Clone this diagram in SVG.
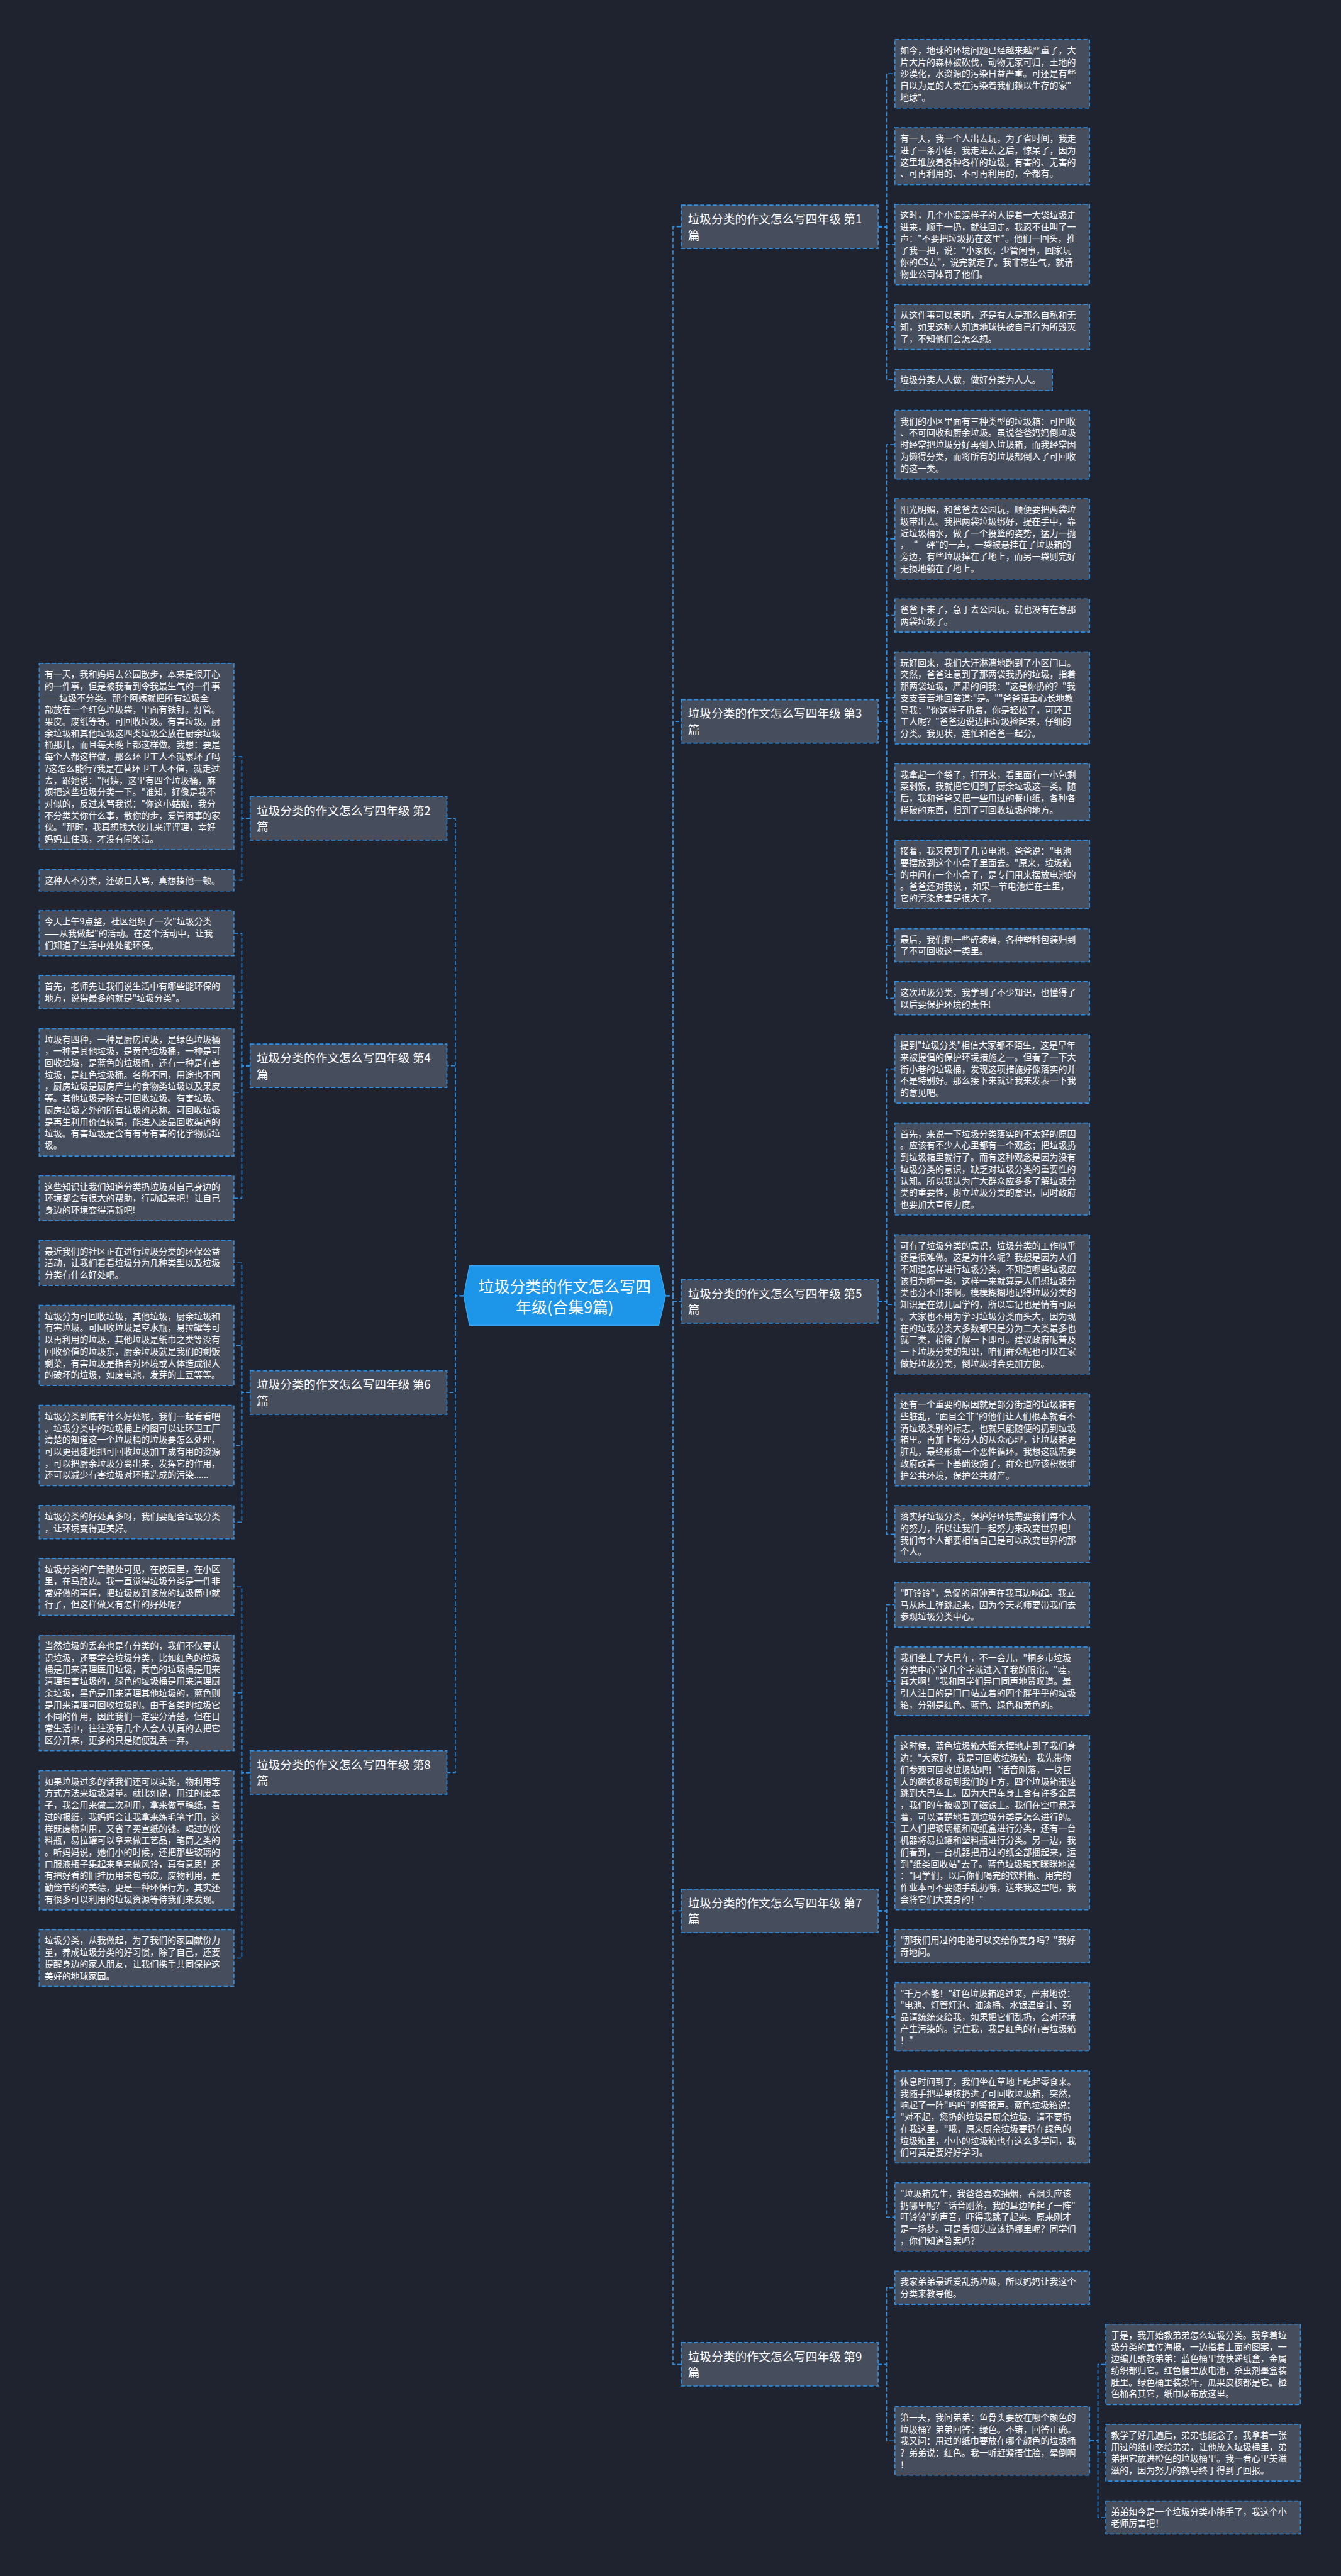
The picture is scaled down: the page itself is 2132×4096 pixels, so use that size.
<svg xmlns="http://www.w3.org/2000/svg" width="2132" height="4096" viewBox="0 0 2132 4096">
<style>
.bg{fill:#1f2330}
.n rect{fill:#464e5d;stroke:#2d8ee2;stroke-width:2;stroke-dasharray:8 4}
.t{font-family:"Noto Sans CJK SC","Liberation Sans",sans-serif;font-size:16.8px;fill:#ffffff}
.bt{font-family:"Noto Sans CJK SC","Liberation Sans",sans-serif;font-size:22.5px;fill:#ffffff}
.rt{font-family:"Noto Sans CJK SC","Liberation Sans",sans-serif;font-size:30px;fill:#ffffff;text-anchor:middle}
#links path{fill:none;stroke:#2d8ee2;stroke-width:2;stroke-dasharray:8 4}
</style>
<rect class="bg" x="0" y="0" width="2132" height="4096"/>
<g transform="scale(0.832)">
<g id="links">
<path d="M1272,2476.5H1286V433.5H1302"/>
<path d="M1272,2476.5H1286V1378.8H1302"/>
<path d="M1272,2476.5H1286V2487.3H1302"/>
<path d="M1272,2476.5H1286V3651.95H1302"/>
<path d="M1272,2476.5H1286V4518.6H1302"/>
<path d="M886,2476.5H870V1564.15H854"/>
<path d="M886,2476.5H870V2036.8H854"/>
<path d="M886,2476.5H870V2661.4H854"/>
<path d="M886,2476.5H870V3387.45H854"/>
<path d="M1678,433.5H1694V140.9H1710"/>
<path d="M1678,433.5H1694V298.45H1710"/>
<path d="M1678,433.5H1694V467.25H1710"/>
<path d="M1678,433.5H1694V624.8H1710"/>
<path d="M1678,433.5H1694V726.1H1710"/>
<path d="M1678,1378.8H1694V849.9H1710"/>
<path d="M1678,1378.8H1694V1029.95H1710"/>
<path d="M1678,1378.8H1694V1176.25H1710"/>
<path d="M1678,1378.8H1694V1333.8H1710"/>
<path d="M1678,1378.8H1694V1513.85H1710"/>
<path d="M1678,1378.8H1694V1671.4H1710"/>
<path d="M1678,1378.8H1694V1806.45H1710"/>
<path d="M1678,1378.8H1694V1907.75H1710"/>
<path d="M1678,2487.3H1694V2042.8H1710"/>
<path d="M1678,2487.3H1694V2234.1H1710"/>
<path d="M1678,2487.3H1694V2492.9H1710"/>
<path d="M1678,2487.3H1694V2751.7H1710"/>
<path d="M1678,2487.3H1694V2931.75H1710"/>
<path d="M1678,3651.95H1694V3066.8H1710"/>
<path d="M1678,3651.95H1694V3213.1H1710"/>
<path d="M1678,3651.95H1694V3483.15H1710"/>
<path d="M1678,3651.95H1694V3719.45H1710"/>
<path d="M1678,3651.95H1694V3854.5H1710"/>
<path d="M1678,3651.95H1694V4045.8H1710"/>
<path d="M1678,3651.95H1694V4237.1H1710"/>
<path d="M1678,4518.6H1694V4372.15H1710"/>
<path d="M1678,4518.6H1694V4665H1710"/>
<path d="M2082,4665H2098V4518.75H2113"/>
<path d="M2082,4665H2098V4687.55H2113"/>
<path d="M2082,4665H2098V4811.35H2113"/>
<path d="M478,1564.15H462V1446H447"/>
<path d="M478,1564.15H462V1682.3H447"/>
<path d="M478,2036.8H462V1783.6H447"/>
<path d="M478,2036.8H462V1896.15H447"/>
<path d="M478,2036.8H462V2087.45H447"/>
<path d="M478,2036.8H462V2290H447"/>
<path d="M478,2661.4H462V2413.8H447"/>
<path d="M478,2661.4H462V2571.35H447"/>
<path d="M478,2661.4H462V2762.65H447"/>
<path d="M478,2661.4H462V2908.95H447"/>
<path d="M478,3387.45H462V3032.75H447"/>
<path d="M478,3387.45H462V3235.3H447"/>
<path d="M478,3387.45H462V3517.1H447"/>
<path d="M478,3387.45H462V3742.15H447"/>
</g>
<g id="root">
<polygon points="897,2419 1259,2419 1272,2476.5 1259,2533 897,2533 886,2476.5" fill="#1d96ea" stroke="#3aa6f2" stroke-width="1.5"/>
<text class="rt" x="1079" y="2469.4">垃圾分类的作文怎么写四</text>
<text class="rt" x="1079" y="2509.4">年级(合集9篇)</text>
</g>
<g id="b1" class="n"><rect x="1302" y="392" width="376" height="83"/><text class="bt"><tspan x="1314.5" y="426.5">垃圾分类的作文怎么写四年级 第1</tspan><tspan x="1314.5" y="457.5">篇</tspan></text></g>
<g id="b3" class="n"><rect x="1302" y="1337.3" width="376" height="83"/><text class="bt"><tspan x="1314.5" y="1371.8">垃圾分类的作文怎么写四年级 第3</tspan><tspan x="1314.5" y="1402.8">篇</tspan></text></g>
<g id="b5" class="n"><rect x="1302" y="2445.8" width="376" height="83"/><text class="bt"><tspan x="1314.5" y="2480.3">垃圾分类的作文怎么写四年级 第5</tspan><tspan x="1314.5" y="2511.3">篇</tspan></text></g>
<g id="b7" class="n"><rect x="1302" y="3610.5" width="376" height="83"/><text class="bt"><tspan x="1314.5" y="3645">垃圾分类的作文怎么写四年级 第7</tspan><tspan x="1314.5" y="3676">篇</tspan></text></g>
<g id="b9" class="n"><rect x="1302" y="4477.1" width="376" height="83"/><text class="bt"><tspan x="1314.5" y="4511.6">垃圾分类的作文怎么写四年级 第9</tspan><tspan x="1314.5" y="4542.6">篇</tspan></text></g>
<g id="b2" class="n"><rect x="478" y="1522.65" width="376" height="83"/><text class="bt"><tspan x="490.5" y="1557.2">垃圾分类的作文怎么写四年级 第2</tspan><tspan x="490.5" y="1588.2">篇</tspan></text></g>
<g id="b4" class="n"><rect x="478" y="1995.3" width="376" height="83"/><text class="bt"><tspan x="490.5" y="2029.8">垃圾分类的作文怎么写四年级 第4</tspan><tspan x="490.5" y="2060.8">篇</tspan></text></g>
<g id="b6" class="n"><rect x="478" y="2619.9" width="376" height="83"/><text class="bt"><tspan x="490.5" y="2654.4">垃圾分类的作文怎么写四年级 第6</tspan><tspan x="490.5" y="2685.4">篇</tspan></text></g>
<g id="b8" class="n"><rect x="478" y="3345.95" width="376" height="83"/><text class="bt"><tspan x="490.5" y="3380.5">垃圾分类的作文怎么写四年级 第8</tspan><tspan x="490.5" y="3411.5">篇</tspan></text></g>

<g id="r1" class="n"><rect x="1710" y="75.4" width="372" height="131"/><text class="t"><tspan x="1720" y="102">如今，地球的环境问题已经越来越严重了，大</tspan><tspan x="1720" dy="22.5">片大片的森林被砍伐，动物无家可归，土地的</tspan><tspan x="1720" dy="22.5">沙漠化，水资源的污染日益严重。可还是有些</tspan><tspan x="1720" dy="22.5">自以为是的人类在污染着我们赖以生存的家"</tspan><tspan x="1720" dy="22.5">地球"。</tspan></text></g>
<g id="r2" class="n"><rect x="1710" y="244.2" width="372" height="108.5"/><text class="t"><tspan x="1720" y="270.8">有一天，我一个人出去玩，为了省时间，我走</tspan><tspan x="1720" dy="22.5">进了一条小径，我走进去之后，惊呆了，因为</tspan><tspan x="1720" dy="22.5">这里堆放着各种各样的垃圾，有害的、无害的</tspan><tspan x="1720" dy="22.5">、可再利用的、不可再利用的，全都有。</tspan></text></g>
<g id="r3" class="n"><rect x="1710" y="390.5" width="372" height="153.5"/><text class="t"><tspan x="1720" y="417.1">这时，几个小混混样子的人提着一大袋垃圾走</tspan><tspan x="1720" dy="22.5">进来，顺手一扔，就往回走。我忍不住叫了一</tspan><tspan x="1720" dy="22.5">声："不要把垃圾扔在这里"。他们一回头，推</tspan><tspan x="1720" dy="22.5">了我一把，说："小家伙，少管闲事，回家玩</tspan><tspan x="1720" dy="22.5">你的CS去"，说完就走了。我非常生气，就请</tspan><tspan x="1720" dy="22.5">物业公司体罚了他们。</tspan></text></g>
<g id="r4" class="n"><rect x="1710" y="581.8" width="372" height="86"/><text class="t"><tspan x="1720" y="608.4">从这件事可以表明，还是有人是那么自私和无</tspan><tspan x="1720" dy="22.5">知，如果这种人知道地球快被自己行为所毁灭</tspan><tspan x="1720" dy="22.5">了，不知他们会怎么想。</tspan></text></g>
<g id="r5" class="n"><rect x="1710" y="705.6" width="301" height="41"/><text class="t"><tspan x="1720" y="732.2">垃圾分类人人做，做好分类为人人。</tspan></text></g>

<g id="r6" class="n"><rect x="1710" y="784.4" width="372" height="131"/><text class="t"><tspan x="1720" y="811">我们的小区里面有三种类型的垃圾箱：可回收</tspan><tspan x="1720" dy="22.5">、不可回收和厨余垃圾。虽说爸爸妈妈倒垃圾</tspan><tspan x="1720" dy="22.5">时经常把垃圾分好再倒入垃圾箱，而我经常因</tspan><tspan x="1720" dy="22.5">为懒得分类，而将所有的垃圾都倒入了可回收</tspan><tspan x="1720" dy="22.5">的这一类。</tspan></text></g>
<g id="r7" class="n"><rect x="1710" y="953.2" width="372" height="153.5"/><text class="t"><tspan x="1720" y="979.8">阳光明媚，和爸爸去公园玩，顺便要把两袋垃</tspan><tspan x="1720" dy="22.5">圾带出去。我把两袋垃圾绑好，提在手中，靠</tspan><tspan x="1720" dy="22.5">近垃圾桶水，做了一个投篮的姿势，猛力一抛</tspan><tspan x="1720" dy="22.5">，　“　砰"的一声，一袋被悬挂在了垃圾箱的</tspan><tspan x="1720" dy="22.5">旁边，有些垃圾掉在了地上，而另一袋则完好</tspan><tspan x="1720" dy="22.5">无损地躺在了地上。</tspan></text></g>
<g id="r8" class="n"><rect x="1710" y="1144.5" width="372" height="63.5"/><text class="t"><tspan x="1720" y="1171.1">爸爸下来了，急于去公园玩，就也没有在意那</tspan><tspan x="1720" dy="22.5">两袋垃圾了。</tspan></text></g>
<g id="r9" class="n"><rect x="1710" y="1245.8" width="372" height="176"/><text class="t"><tspan x="1720" y="1272.4">玩好回来，我们大汗淋漓地跑到了小区门口。</tspan><tspan x="1720" dy="22.5">突然，爸爸注意到了那两袋我扔的垃圾，指着</tspan><tspan x="1720" dy="22.5">那两袋垃圾，严肃的问我："这是你扔的？"我</tspan><tspan x="1720" dy="22.5">支支吾吾地回答道:"是。""爸爸语重心长地教</tspan><tspan x="1720" dy="22.5">导我："你这样子扔着，你是轻松了，可环卫</tspan><tspan x="1720" dy="22.5">工人呢？"爸爸边说边把垃圾捡起来，仔细的</tspan><tspan x="1720" dy="22.5">分类。我见状，连忙和爸爸一起分。</tspan></text></g>
<g id="r10" class="n"><rect x="1710" y="1459.6" width="372" height="108.5"/><text class="t"><tspan x="1720" y="1486.2">我拿起一个袋子，打开来，看里面有一小包剩</tspan><tspan x="1720" dy="22.5">菜剩饭，我就把它归到了厨余垃圾这一类。随</tspan><tspan x="1720" dy="22.5">后，我和爸爸又把一些用过的餐巾纸，各种各</tspan><tspan x="1720" dy="22.5">样破的东西，归到了可回收垃圾的地方。</tspan></text></g>
<g id="r11" class="n"><rect x="1710" y="1605.9" width="372" height="131"/><text class="t"><tspan x="1720" y="1632.5">接着，我又摸到了几节电池，爸爸说："电池</tspan><tspan x="1720" dy="22.5">要摆放到这个小盒子里面去。"原来，垃圾箱</tspan><tspan x="1720" dy="22.5">的中间有一个小盒子，是专门用来摆放电池的</tspan><tspan x="1720" dy="22.5">。爸爸还对我说 ，如果一节电池烂在土里，</tspan><tspan x="1720" dy="22.5">它的污染危害是很大了。</tspan></text></g>
<g id="r12" class="n"><rect x="1710" y="1774.7" width="372" height="63.5"/><text class="t"><tspan x="1720" y="1801.3">最后，我们把一些碎玻璃，各种塑料包装归到</tspan><tspan x="1720" dy="22.5">了不可回收这一类里。</tspan></text></g>
<g id="r13" class="n"><rect x="1710" y="1876" width="372" height="63.5"/><text class="t"><tspan x="1720" y="1902.6">这次垃圾分类，我学到了不少知识，也懂得了</tspan><tspan x="1720" dy="22.5">以后要保护环境的责任!</tspan></text></g>

<g id="r14" class="n"><rect x="1710" y="1977.3" width="372" height="131"/><text class="t"><tspan x="1720" y="2003.9">提到"垃圾分类"相信大家都不陌生，这是早年</tspan><tspan x="1720" dy="22.5">来被提倡的保护环境措施之一。但看了一下大</tspan><tspan x="1720" dy="22.5">街小巷的垃圾桶，发现这项措施好像落实的并</tspan><tspan x="1720" dy="22.5">不是特别好。那么接下来就让我来发表一下我</tspan><tspan x="1720" dy="22.5">的意见吧。</tspan></text></g>
<g id="r15" class="n"><rect x="1710" y="2146.1" width="372" height="176"/><text class="t"><tspan x="1720" y="2172.7">首先，来说一下垃圾分类落实的不太好的原因</tspan><tspan x="1720" dy="22.5">。应该有不少人心里都有一个观念；把垃圾扔</tspan><tspan x="1720" dy="22.5">到垃圾箱里就行了。而有这种观念是因为没有</tspan><tspan x="1720" dy="22.5">垃圾分类的意识，缺乏对垃圾分类的重要性的</tspan><tspan x="1720" dy="22.5">认知。所以我认为广大群众应多多了解垃圾分</tspan><tspan x="1720" dy="22.5">类的重要性，树立垃圾分类的意识，同时政府</tspan><tspan x="1720" dy="22.5">也要加大宣传力度。</tspan></text></g>
<g id="r16" class="n"><rect x="1710" y="2359.9" width="372" height="266"/><text class="t"><tspan x="1720" y="2386.5">可有了垃圾分类的意识，垃圾分类的工作似乎</tspan><tspan x="1720" dy="22.5">还是很难做。这是为什么呢？我想是因为人们</tspan><tspan x="1720" dy="22.5">不知道怎样进行垃圾分类。不知道哪些垃圾应</tspan><tspan x="1720" dy="22.5">该归为哪一类，这样一来就算是人们想垃圾分</tspan><tspan x="1720" dy="22.5">类也分不出来啊。模模糊糊地记得垃圾分类的</tspan><tspan x="1720" dy="22.5">知识是在幼儿园学的，所以忘记也是情有可原</tspan><tspan x="1720" dy="22.5">。大家也不用为学习垃圾分类而头大，因为现</tspan><tspan x="1720" dy="22.5">在的垃圾分类大多数都只是分为二大类最多也</tspan><tspan x="1720" dy="22.5">就三类，稍微了解一下即可。建议政府呢普及</tspan><tspan x="1720" dy="22.5">一下垃圾分类的知识，咱们群众呢也可以在家</tspan><tspan x="1720" dy="22.5">做好垃圾分类，倒垃圾时会更加方便。</tspan></text></g>
<g id="r17" class="n"><rect x="1710" y="2663.7" width="372" height="176"/><text class="t"><tspan x="1720" y="2690.3">还有一个重要的原因就是部分街道的垃圾箱有</tspan><tspan x="1720" dy="22.5">些脏乱，"面目全非"的他们让人们根本就看不</tspan><tspan x="1720" dy="22.5">清垃圾类别的标志，也就只能随便的扔到垃圾</tspan><tspan x="1720" dy="22.5">箱里。再加上部分人的从众心理，让垃圾箱更</tspan><tspan x="1720" dy="22.5">脏乱，最终形成一个恶性循环。我想这就需要</tspan><tspan x="1720" dy="22.5">政府改善一下基础设施了，群众也应该积极维</tspan><tspan x="1720" dy="22.5">护公共环境，保护公共财产。</tspan></text></g>
<g id="r18" class="n"><rect x="1710" y="2877.5" width="372" height="108.5"/><text class="t"><tspan x="1720" y="2904.1">落实好垃圾分类，保护好环境需要我们每个人</tspan><tspan x="1720" dy="22.5">的努力，所以让我们一起努力来改变世界吧！</tspan><tspan x="1720" dy="22.5">我们每个人都要相信自己是可以改变世界的那</tspan><tspan x="1720" dy="22.5">个人。</tspan></text></g>

<g id="r19" class="n"><rect x="1710" y="3023.8" width="372" height="86"/><text class="t"><tspan x="1720" y="3050.4">"叮铃铃"，急促的闹钟声在我耳边响起。我立</tspan><tspan x="1720" dy="22.5">马从床上弹跳起来，因为今天老师要带我们去</tspan><tspan x="1720" dy="22.5">参观垃圾分类中心。</tspan></text></g>
<g id="r20" class="n"><rect x="1710" y="3147.6" width="372" height="131"/><text class="t"><tspan x="1720" y="3174.2">我们坐上了大巴车，不一会儿，"桐乡市垃圾</tspan><tspan x="1720" dy="22.5">分类中心"这几个字就进入了我的眼帘。"哇，</tspan><tspan x="1720" dy="22.5">真大啊！"我和同学们异口同声地赞叹道。最</tspan><tspan x="1720" dy="22.5">引人注目的是门口站立着的四个胖乎乎的垃圾</tspan><tspan x="1720" dy="22.5">箱，分别是红色、蓝色、绿色和黄色的。</tspan></text></g>
<g id="r21" class="n"><rect x="1710" y="3316.4" width="372" height="333.5"/><text class="t"><tspan x="1720" y="3343">这时候，蓝色垃圾箱大摇大摆地走到了我们身</tspan><tspan x="1720" dy="22.5">边："大家好，我是可回收垃圾箱，我先带你</tspan><tspan x="1720" dy="22.5">们参观可回收垃圾站吧！"话音刚落，一块巨</tspan><tspan x="1720" dy="22.5">大的磁铁移动到我们的上方，四个垃圾箱迅速</tspan><tspan x="1720" dy="22.5">跳到大巴车上。因为大巴车身上含有许多金属</tspan><tspan x="1720" dy="22.5">，我们的车被吸到了磁铁上。我们在空中悬浮</tspan><tspan x="1720" dy="22.5">着，可以清楚地看到垃圾分类是怎么进行的。</tspan><tspan x="1720" dy="22.5">工人们把玻璃瓶和硬纸盒进行分类，还有一台</tspan><tspan x="1720" dy="22.5">机器将易拉罐和塑料瓶进行分类。另一边，我</tspan><tspan x="1720" dy="22.5">们看到，一台机器把用过的纸全部捆起来，运</tspan><tspan x="1720" dy="22.5">到"纸类回收站"去了。蓝色垃圾箱笑眯眯地说</tspan><tspan x="1720" dy="22.5">："同学们，以后你们喝完的饮料瓶、用完的</tspan><tspan x="1720" dy="22.5">作业本可不要随手乱扔哦，送来我这里吧，我</tspan><tspan x="1720" dy="22.5">会将它们大变身的！"</tspan></text></g>
<g id="r22" class="n"><rect x="1710" y="3687.7" width="372" height="63.5"/><text class="t"><tspan x="1720" y="3714.3">"那我们用过的电池可以交给你变身吗？"我好</tspan><tspan x="1720" dy="22.5">奇地问。</tspan></text></g>
<g id="r23" class="n"><rect x="1710" y="3789" width="372" height="131"/><text class="t"><tspan x="1720" y="3815.6">"千万不能！"红色垃圾箱跑过来，严肃地说：</tspan><tspan x="1720" dy="22.5">"电池、灯管灯泡、油漆桶、水银温度计、药</tspan><tspan x="1720" dy="22.5">品请统统交给我，如果把它们乱扔，会对环境</tspan><tspan x="1720" dy="22.5">产生污染的。记住我，我是红色的有害垃圾箱</tspan><tspan x="1720" dy="22.5">！"</tspan></text></g>
<g id="r24" class="n"><rect x="1710" y="3957.8" width="372" height="176"/><text class="t"><tspan x="1720" y="3984.4">休息时间到了，我们坐在草地上吃起零食来。</tspan><tspan x="1720" dy="22.5">我随手把苹果核扔进了可回收垃圾箱，突然，</tspan><tspan x="1720" dy="22.5">响起了一阵"呜呜"的警报声。蓝色垃圾箱说：</tspan><tspan x="1720" dy="22.5">"对不起，您扔的垃圾是厨余垃圾，请不要扔</tspan><tspan x="1720" dy="22.5">在我这里。"哦，原来厨余垃圾要扔在绿色的</tspan><tspan x="1720" dy="22.5">垃圾箱里，小小的垃圾箱也有这么多学问，我</tspan><tspan x="1720" dy="22.5">们可真是要好好学习。</tspan></text></g>
<g id="r25" class="n"><rect x="1710" y="4171.6" width="372" height="131"/><text class="t"><tspan x="1720" y="4198.2">"垃圾箱先生，我爸爸喜欢抽烟，香烟头应该</tspan><tspan x="1720" dy="22.5">扔哪里呢？"话音刚落，我的耳边响起了一阵"</tspan><tspan x="1720" dy="22.5">叮铃铃"的声音，吓得我跳了起来。原来刚才</tspan><tspan x="1720" dy="22.5">是一场梦。可是香烟头应该扔哪里呢？同学们</tspan><tspan x="1720" dy="22.5">，你们知道答案吗？</tspan></text></g>

<g id="r26" class="n"><rect x="1710" y="4340.4" width="372" height="63.5"/><text class="t"><tspan x="1720" y="4367">我家弟弟最近爱乱扔垃圾，所以妈妈让我这个</tspan><tspan x="1720" dy="22.5">分类来教导他。</tspan></text></g>
<g id="r27" class="n"><rect x="1710" y="4599.5" width="372" height="131"/><text class="t"><tspan x="1720" y="4626.1">第一天，我问弟弟：鱼骨头要放在哪个颜色的</tspan><tspan x="1720" dy="22.5">垃圾桶？弟弟回答：绿色。不错，回答正确。</tspan><tspan x="1720" dy="22.5">我又问：用过的纸巾要放在哪个颜色的垃圾桶</tspan><tspan x="1720" dy="22.5">？弟弟说：红色。我一听赶紧捂住脸，晕倒啊</tspan><tspan x="1720" dy="22.5">！</tspan></text></g>
<g id="s1" class="n"><rect x="2113" y="4442" width="372" height="153.5"/><text class="t"><tspan x="2123" y="4468.6">于是，我开始教弟弟怎么垃圾分类。我拿着垃</tspan><tspan x="2123" dy="22.5">圾分类的宣传海报，一边指着上面的图案，一</tspan><tspan x="2123" dy="22.5">边编儿歌教弟弟：蓝色桶里放快递纸盒，金属</tspan><tspan x="2123" dy="22.5">纺织都归它。红色桶里放电池，杀虫剂墨盒装</tspan><tspan x="2123" dy="22.5">肚里。绿色桶里装菜叶，瓜果皮核都是它。橙</tspan><tspan x="2123" dy="22.5">色桶名其它，纸巾尿布放这里。</tspan></text></g>
<g id="s2" class="n"><rect x="2113" y="4633.3" width="372" height="108.5"/><text class="t"><tspan x="2123" y="4659.9">教学了好几遍后，弟弟也能念了。我拿着一张</tspan><tspan x="2123" dy="22.5">用过的纸巾交给弟弟，让他放入垃圾桶里，弟</tspan><tspan x="2123" dy="22.5">弟把它放进橙色的垃圾桶里。我一看心里美滋</tspan><tspan x="2123" dy="22.5">滋的，因为努力的教导终于得到了回报。</tspan></text></g>
<g id="s3" class="n"><rect x="2113" y="4779.6" width="372" height="63.5"/><text class="t"><tspan x="2123" y="4806.2">弟弟如今是一个垃圾分类小能手了，我这个小</tspan><tspan x="2123" dy="22.5">老师厉害吧！</tspan></text></g>

<g id="l1" class="n"><rect x="75" y="1268" width="372" height="356"/><text class="t"><tspan x="85" y="1294.6">有一天，我和妈妈去公园散步，本来是很开心</tspan><tspan x="85" dy="22.5">的一件事，但是被我看到令我最生气的一件事</tspan><tspan x="85" dy="22.5">——垃圾不分类。那个阿姨就把所有垃圾全</tspan><tspan x="85" dy="22.5">部放在一个红色垃圾袋，里面有铁钉。灯管。</tspan><tspan x="85" dy="22.5">果皮。废纸等等。可回收垃圾。有害垃圾。厨</tspan><tspan x="85" dy="22.5">余垃圾和其他垃圾这四类垃圾全放在厨余垃圾</tspan><tspan x="85" dy="22.5">桶那儿，而且每天晚上都这样做。我想：要是</tspan><tspan x="85" dy="22.5">每个人都这样做，那么环卫工人不就累坏了吗</tspan><tspan x="85" dy="22.5">?这怎么能行?我是在替环卫工人不值，就走过</tspan><tspan x="85" dy="22.5">去，跟她说："阿姨，这里有四个垃圾桶，麻</tspan><tspan x="85" dy="22.5">烦把这些垃圾分类一下。"谁知，好像是我不</tspan><tspan x="85" dy="22.5">对似的，反过来骂我说："你这小姑娘，我分</tspan><tspan x="85" dy="22.5">不分类关你什么事，散你的步，爱管闲事的家</tspan><tspan x="85" dy="22.5">伙。"那时，我真想找大伙儿来评评理，幸好</tspan><tspan x="85" dy="22.5">妈妈止住我，才没有闹笑话。</tspan></text></g>
<g id="l2" class="n"><rect x="75" y="1661.8" width="372" height="41"/><text class="t"><tspan x="85" y="1688.4">这种人不分类，还破口大骂，真想揍他一顿。</tspan></text></g>
<g id="l3" class="n"><rect x="75" y="1740.6" width="372" height="86"/><text class="t"><tspan x="85" y="1767.2">今天上午9点整，社区组织了一次"垃圾分类</tspan><tspan x="85" dy="22.5">——从我做起"的活动。在这个活动中，让我</tspan><tspan x="85" dy="22.5">们知道了生活中处处能环保。</tspan></text></g>
<g id="l4" class="n"><rect x="75" y="1864.4" width="372" height="63.5"/><text class="t"><tspan x="85" y="1891">首先，老师先让我们说生活中有哪些能环保的</tspan><tspan x="85" dy="22.5">地方，说得最多的就是"垃圾分类"。</tspan></text></g>
<g id="l5" class="n"><rect x="75" y="1965.7" width="372" height="243.5"/><text class="t"><tspan x="85" y="1992.3">垃圾有四种，一种是厨房垃圾，是绿色垃圾桶</tspan><tspan x="85" dy="22.5">，一种是其他垃圾，是黄色垃圾桶，一种是可</tspan><tspan x="85" dy="22.5">回收垃圾，是蓝色的垃圾桶，还有一种是有害</tspan><tspan x="85" dy="22.5">垃圾，是红色垃圾桶。名称不同，用途也不同</tspan><tspan x="85" dy="22.5">，厨房垃圾是厨房产生的食物类垃圾以及果皮</tspan><tspan x="85" dy="22.5">等。其他垃圾是除去可回收垃圾、有害垃圾、</tspan><tspan x="85" dy="22.5">厨房垃圾之外的所有垃圾的总称。可回收垃圾</tspan><tspan x="85" dy="22.5">是再生利用价值较高，能进入废品回收渠道的</tspan><tspan x="85" dy="22.5">垃圾。有害垃圾是含有有毒有害的化学物质垃</tspan><tspan x="85" dy="22.5">圾。</tspan></text></g>
<g id="l6" class="n"><rect x="75" y="2247" width="372" height="86"/><text class="t"><tspan x="85" y="2273.6">这些知识让我们知道分类扔垃圾对自己身边的</tspan><tspan x="85" dy="22.5">环境都会有很大的帮助，行动起来吧！让自己</tspan><tspan x="85" dy="22.5">身边的环境变得清新吧!</tspan></text></g>
<g id="l7" class="n"><rect x="75" y="2370.8" width="372" height="86"/><text class="t"><tspan x="85" y="2397.4">最近我们的社区正在进行垃圾分类的环保公益</tspan><tspan x="85" dy="22.5">活动，让我们看看垃圾分为几种类型以及垃圾</tspan><tspan x="85" dy="22.5">分类有什么好处吧。</tspan></text></g>
<g id="l8" class="n"><rect x="75" y="2494.6" width="372" height="153.5"/><text class="t"><tspan x="85" y="2521.2">垃圾分为可回收垃圾，其他垃圾，厨余垃圾和</tspan><tspan x="85" dy="22.5">有害垃圾。可回收垃圾是空水瓶，易拉罐等可</tspan><tspan x="85" dy="22.5">以再利用的垃圾，其他垃圾是纸巾之类等没有</tspan><tspan x="85" dy="22.5">回收价值的垃圾东，厨余垃圾就是我们的剩饭</tspan><tspan x="85" dy="22.5">剩菜，有害垃圾是指会对环境或人体造成很大</tspan><tspan x="85" dy="22.5">的破坏的垃圾，如废电池，发芽的土豆等等。</tspan></text></g>
<g id="l9" class="n"><rect x="75" y="2685.9" width="372" height="153.5"/><text class="t"><tspan x="85" y="2712.5">垃圾分类到底有什么好处呢，我们一起看看吧</tspan><tspan x="85" dy="22.5">。垃圾分类中的垃圾桶上的图可以让环卫工厂</tspan><tspan x="85" dy="22.5">清楚的知道这一个垃圾桶的垃圾要怎么处理，</tspan><tspan x="85" dy="22.5">可以更迅速地把可回收垃圾加工成有用的资源</tspan><tspan x="85" dy="22.5">，可以把厨余垃圾分离出来，发挥它的作用，</tspan><tspan x="85" dy="22.5">还可以减少有害垃圾对环境造成的污染......</tspan></text></g>
<g id="l10" class="n"><rect x="75" y="2877.2" width="372" height="63.5"/><text class="t"><tspan x="85" y="2903.8">垃圾分类的好处真多呀，我们要配合垃圾分类</tspan><tspan x="85" dy="22.5">，让环境变得更美好。</tspan></text></g>
<g id="l11" class="n"><rect x="75" y="2978.5" width="372" height="108.5"/><text class="t"><tspan x="85" y="3005.1">垃圾分类的广告随处可见，在校园里，在小区</tspan><tspan x="85" dy="22.5">里，在马路边。我一直觉得垃圾分类是一件非</tspan><tspan x="85" dy="22.5">常好做的事情，把垃圾放到该放的垃圾筒中就</tspan><tspan x="85" dy="22.5">行了，但这样做又有怎样的好处呢？</tspan></text></g>
<g id="l12" class="n"><rect x="75" y="3124.8" width="372" height="221"/><text class="t"><tspan x="85" y="3151.4">当然垃圾的丢弃也是有分类的，我们不仅要认</tspan><tspan x="85" dy="22.5">识垃圾，还要学会垃圾分类，比如红色的垃圾</tspan><tspan x="85" dy="22.5">桶是用来清理医用垃圾，黄色的垃圾桶是用来</tspan><tspan x="85" dy="22.5">清理有害垃圾的，绿色的垃圾桶是用来清理厨</tspan><tspan x="85" dy="22.5">余垃圾，黑色是用来清理其他垃圾的，蓝色则</tspan><tspan x="85" dy="22.5">是用来清理可回收垃圾的。由于各类的垃圾它</tspan><tspan x="85" dy="22.5">不同的作用，因此我们一定要分清楚。但在日</tspan><tspan x="85" dy="22.5">常生活中，往往没有几个人会人认真的去把它</tspan><tspan x="85" dy="22.5">区分开来，更多的只是随便乱丢一弃。</tspan></text></g>
<g id="l13" class="n"><rect x="75" y="3384.1" width="372" height="266"/><text class="t"><tspan x="85" y="3410.7">如果垃圾过多的话我们还可以实施，物利用等</tspan><tspan x="85" dy="22.5">方式方法来垃圾减量。就比如说，用过的废本</tspan><tspan x="85" dy="22.5">子，我会用来做二次利用，拿来做草稿纸，看</tspan><tspan x="85" dy="22.5">过的报纸，我妈妈会让我拿来练毛笔字用，这</tspan><tspan x="85" dy="22.5">样既废物利用，又省了买宣纸的钱。喝过的饮</tspan><tspan x="85" dy="22.5">料瓶，易拉罐可以拿来做工艺品，笔筒之类的</tspan><tspan x="85" dy="22.5">。听妈妈说，她们小的时候，还把那些玻璃的</tspan><tspan x="85" dy="22.5">口服液瓶子集起来拿来做风铃，真有意思！还</tspan><tspan x="85" dy="22.5">有把好看的旧挂历用来包书皮。废物利用，是</tspan><tspan x="85" dy="22.5">勤俭节约的美德，更是一种环保行为。其实还</tspan><tspan x="85" dy="22.5">有很多可以利用的垃圾资源等待我们来发现。</tspan></text></g>
<g id="l14" class="n"><rect x="75" y="3687.9" width="372" height="108.5"/><text class="t"><tspan x="85" y="3714.5">垃圾分类，从我做起，为了我们的家园献份力</tspan><tspan x="85" dy="22.5">量，养成垃圾分类的好习惯，除了自己，还要</tspan><tspan x="85" dy="22.5">提醒身边的家人朋友，让我们携手共同保护这</tspan><tspan x="85" dy="22.5">美好的地球家园。</tspan></text></g>
</g>
</svg>
